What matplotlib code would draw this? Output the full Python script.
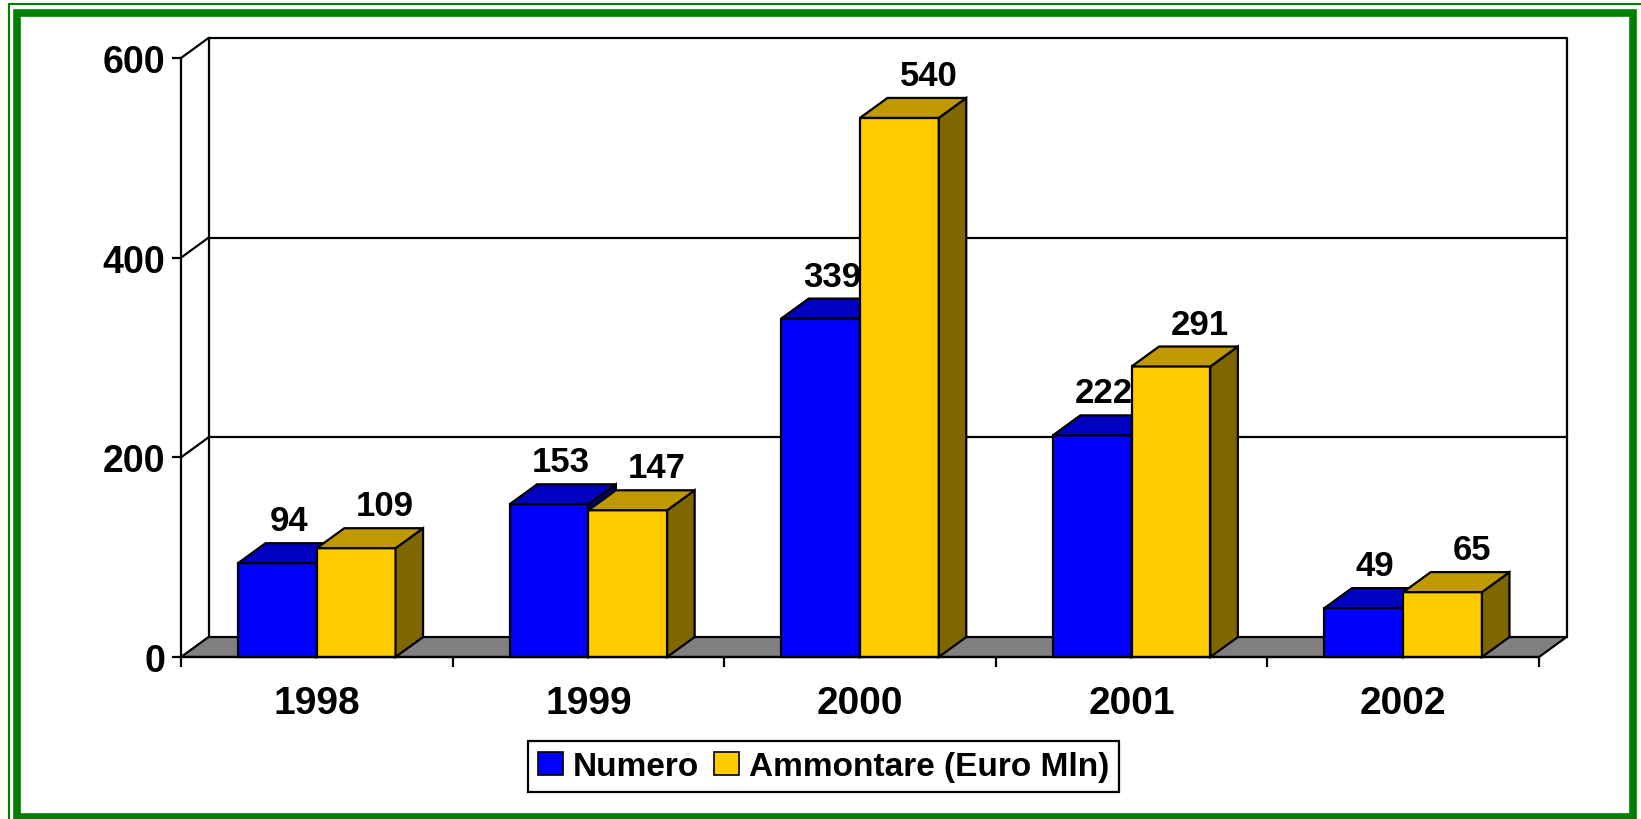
import matplotlib
matplotlib.use('Agg')
import matplotlib.pyplot as plt
from matplotlib.patches import Polygon, Patch, Rectangle

anni = ['1998', '1999', '2000', '2001', '2002']
numero = [94, 153, 339, 222, 49]
ammontare = [109, 147, 540, 291, 65]
serie = ['Numero', 'Ammontare (Euro Mln)']
yticks = [0, 200, 400, 600]

# colori: fronte, top, lato
col_num = ('#0000FF', '#0000C0', '#000080')
col_amm = ('#FFCC00', '#C09900', '#806600')

plt.rcParams['font.family'] = ['Liberation Sans', 'DejaVu Sans']
plt.rcParams['font.weight'] = 'bold'

fig = plt.figure(figsize=(16.41, 8.20), dpi=100)
ax = fig.add_axes([181/1641, 162/820, 1358/1641, 599/820])
ax.set_xlim(0, len(anni))
ax.set_ylim(0, 600)
for s in ax.spines.values():
    s.set_visible(False)
ax.patch.set_alpha(0)

DX = 27.5 / 271.6   # profondita' in unita' categoria
DY = 20             # profondita' in unita' valore
n = len(anni)
lw = 1.6

# parete di fondo e griglia
ax.plot([DX, DX, n + DX, n + DX], [DY, 600 + DY, 600 + DY, DY], color='black', lw=lw, zorder=1, clip_on=False)
for v in yticks[1:-1]:
    ax.plot([DX, n + DX], [v + DY, v + DY], color='black', lw=lw, zorder=1, clip_on=False)
# parete laterale
for v in yticks[1:]:
    ax.plot([0, DX], [v, v + DY], color='black', lw=lw, zorder=1, clip_on=False)
ax.plot([0, 0], [0, 600], color='black', lw=lw, zorder=1, clip_on=False)

# pavimento
ax.add_patch(Polygon([(0, 0), (n, 0), (n + DX, DY), (DX, DY)], closed=True,
                     facecolor='#808080', edgecolor='black', lw=lw, zorder=2, clip_on=False))

def bar3d(x0, w, h, cols):
    ax.bar(x0, h, width=w, align='edge', color=cols[0], edgecolor='black', lw=lw, zorder=3, clip_on=False)
    ax.add_patch(Polygon([(x0 + w, 0), (x0 + w + DX, DY), (x0 + w + DX, h + DY), (x0 + w, h)], closed=True,
                         facecolor=cols[2], edgecolor='black', lw=lw, zorder=3, clip_on=False))
    ax.add_patch(Polygon([(x0, h), (x0 + w, h), (x0 + w + DX, h + DY), (x0 + DX, h + DY)], closed=True,
                         facecolor=cols[1], edgecolor='black', lw=lw, zorder=3, clip_on=False))

bw = 0.29
for i in range(n):
    x0 = i + 0.21
    bar3d(x0, bw, numero[i], col_num)
    ax.text(x0 + bw / 2 + 0.042, numero[i] + DY + 13, str(numero[i]), ha='center', va='baseline',
            fontsize=25, fontweight='bold', zorder=5)
    bar3d(x0 + bw, bw, ammontare[i], col_amm)
    ax.text(x0 + 1.5 * bw + 0.107, ammontare[i] + DY + 13, str(ammontare[i]), ha='center', va='baseline',
            fontsize=25, fontweight='bold', zorder=5)

# asse x frontale
ax.plot([0, n], [0, 0], color='black', lw=lw, zorder=4, clip_on=False)

ax.set_yticks(yticks)
ax.set_yticklabels([str(v) for v in yticks], fontsize=27, fontweight='bold')
ax.tick_params(axis='y', direction='out', length=6.5, width=lw, pad=5)
ax.set_xticks(range(n + 1))
ax.set_xticklabels([])
ax.tick_params(axis='x', which='major', direction='out', length=7, width=lw)
ax.set_xticks([i + 0.5 for i in range(n)], minor=True)
ax.set_xticklabels(anni, minor=True, fontsize=28, fontweight='bold')
ax.tick_params(axis='x', which='minor', length=0, pad=20)

handles = [Patch(facecolor=col_num[0], edgecolor='black', lw=1.2),
           Patch(facecolor=col_amm[0], edgecolor='black', lw=1.2)]
leg = fig.legend(handles, serie, loc='center', bbox_to_anchor=(823.5/1641, 1 - 767.5/820), ncol=2,
                 prop={'size': 24, 'weight': 'bold'}, fancybox=False, framealpha=1, edgecolor='black',
                 handlelength=0.75, handleheight=0.69, handletextpad=0.3, columnspacing=0.45,
                 borderpad=0.3, borderaxespad=0)
leg.get_frame().set_linewidth(1.6)

# cornice verde
fig.add_artist(Rectangle((9/1641, -0.05), 1.2, (820 - 5) / 820 + 0.05, transform=fig.transFigure,
                         fill=False, edgecolor='#008000', lw=1.5))
fig.add_artist(Rectangle((17/1641, 2.5/820), (1633 - 17) / 1641, (820 - 13.5 - 2.5) / 820, transform=fig.transFigure,
                         fill=False, edgecolor='#008000', lw=5.5))

fig.savefig('out.png', dpi=100)
